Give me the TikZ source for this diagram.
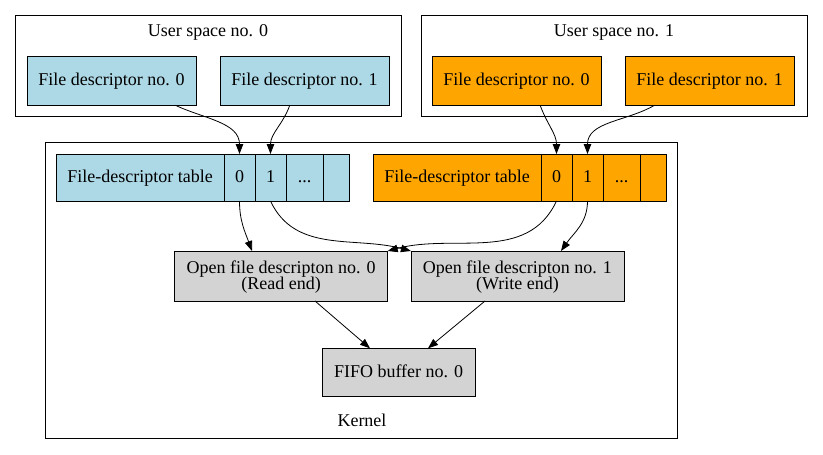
\documentclass[tikz,border=0pt]{standalone}
\usepackage{fontspec}
\setmainfont{Liberation Serif}
\usetikzlibrary{positioning, arrows.meta}
\definecolor{fdblue}{RGB}{173,216,230}
\definecolor{fdorange}{RGB}{255,165,0}
\definecolor{kgray}{RGB}{211,211,211}

\begin{document}
\begin{tikzpicture}[x=1pt, y=-1pt,
    every node/.style={font=\fontsize{18}{16.7}\selectfont, text height=13.6pt, text depth=4pt},
    cluster/.style={rectangle, draw, line width=0.8pt, inner sep=0pt, outer sep=0pt},
    fdbox/.style={rectangle, draw, line width=0.8pt, minimum width=169pt, minimum height=49pt, inner sep=0pt, outer sep=0pt},
    tbl/.style={rectangle, draw, line width=0.8pt, minimum width=168pt, minimum height=47pt, inner sep=0pt, outer sep=0pt},
    cell/.style={rectangle, draw, line width=0.8pt, minimum width=31pt, minimum height=47pt, inner sep=0pt, outer sep=0pt},
    openbox/.style={rectangle, draw, fill=kgray, line width=0.8pt, minimum width=213pt, minimum height=50pt, align=center, text height=31.5pt, inner sep=0pt, outer sep=0pt},
    arrow/.style={-{Triangle[length=10pt, width=7.5pt]}, line width=0.8pt}
]
\useasboundingbox (0,0) rectangle (823,455);

% Clusters
\node (us0) [cluster, minimum width=386pt, minimum height=101pt] at (208,65.5) {};
\node (us1) [cluster, minimum width=386pt, minimum height=101pt] at (614,65.5) {};
\node (kernel) [cluster, minimum width=632pt, minimum height=296pt] at (361,290) {};
\node (us0lbl) at (208,32) {User space no. 0};
\node (us1lbl) at (614,32) {User space no. 1};
\node (kernellbl) at (362,421.5) {Kernel};

% File descriptors
\node (fdA) [fdbox, fill=fdblue] at (111.5,80.8) {File descriptor no. 0};
\node (fdB) [fdbox, fill=fdblue] at (304.5,80.8) {File descriptor no. 1};
\node (fdC) [fdbox, fill=fdorange] at (516.5,80.8) {File descriptor no. 0};
\node (fdD) [fdbox, fill=fdorange] at (709.5,80.8) {File descriptor no. 1};

% File-descriptor tables
\node (tblL) [tbl, fill=fdblue] at (140,177.5) {File-descriptor table};
\node (c0L) [cell, fill=fdblue, right=0pt of tblL] {0};
\node (c1L) [cell, fill=fdblue, right=0pt of c0L] {1};
\node (cdL) [cell, fill=fdblue, minimum width=37pt, right=0pt of c1L] {...};
\node (ceL) [cell, fill=fdblue, minimum width=26pt, right=0pt of cdL] {};

\node (tblR) [tbl, fill=fdorange] at (457,177.5) {File-descriptor table};
\node (c0R) [cell, fill=fdorange, right=0pt of tblR] {0};
\node (c1R) [cell, fill=fdorange, right=0pt of c0R] {1};
\node (cdR) [cell, fill=fdorange, minimum width=37pt, right=0pt of c1R] {...};
\node (ceR) [cell, fill=fdorange, minimum width=26pt, right=0pt of cdR] {};

% Open file descriptions and buffer
\node (openA) [openbox] at (281.2,276) {Open file descripton no. 0\\(Read end)};
\node (openB) [openbox] at (517.4,276) {Open file descripton no. 1\\(Write end)};
\node (fifo) [openbox, text height=13.6pt, minimum width=153pt, minimum height=48.4pt] at (398.6,372.5) {FIFO buffer no. 0};

% Arrows
\draw [arrow] (fdA.-21) to[out=-25, in=90] (c0L.north);
\draw [arrow] (fdB.-121) to[out=-110, in=90] (c1L.north);
\draw [arrow] (fdC.-46) to[out=-70, in=90] (c0R.north);
\draw [arrow] (fdD.-156) to[out=-150, in=90] (c1R.north);
\draw [arrow] (c0L.south) to[out=-90, in=110] (openA.north -| 252,0);
\draw [arrow] (c1L.south) to[out=-65, in=165] (openB.north west);
\draw [arrow] (c0R.south) to[out=-115, in=15] (openA.north east);
\draw [arrow] (c1R.south) to[out=-90, in=55] (openB.north -| 561,0);
\draw [arrow] (openA.south -| 315,0) -- (fifo.north -| 370,0);
\draw [arrow] (openB.south -| 485,0) -- (fifo.north -| 428,0);

\end{tikzpicture}
\end{document}
